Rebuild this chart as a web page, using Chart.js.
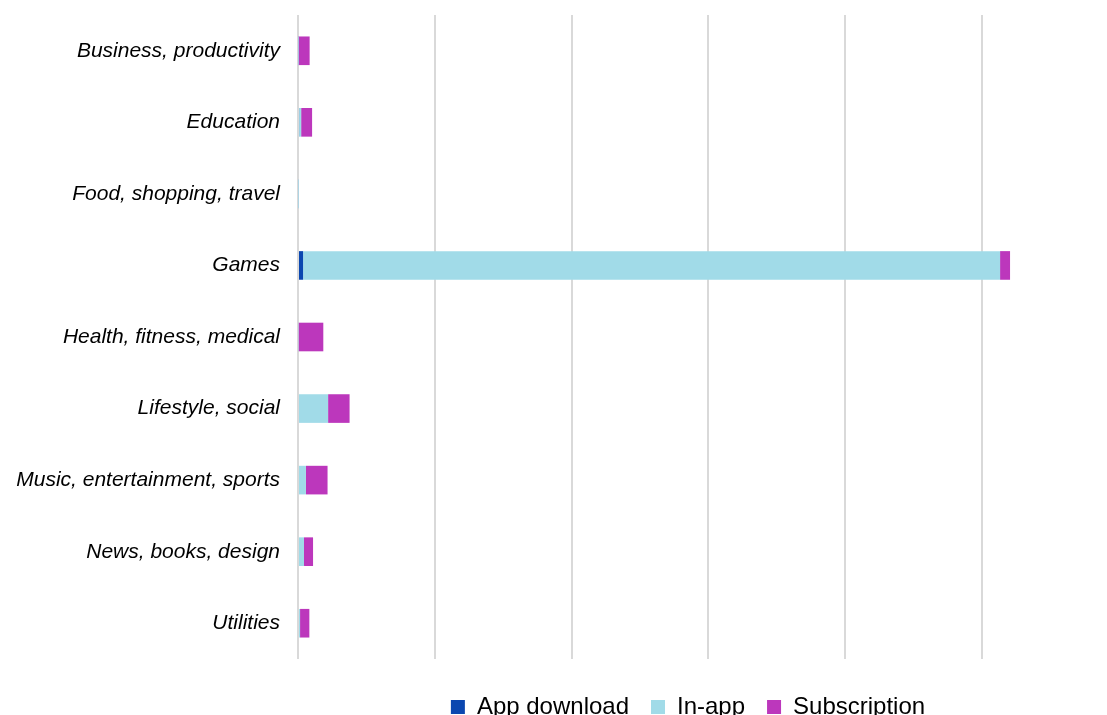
<!DOCTYPE html>
<html>
<head>
<meta charset="utf-8">
<script src="https://cdn.jsdelivr.net/npm/chart.js@4"></script>
<style>
  html, body { margin: 0; padding: 0; background: #fff; overflow: hidden; }
  #wrap { width: 1376px; height: 729px; position: relative; }
</style>
</head>
<body>
<div id="wrap"><canvas id="barChart"></canvas></div>
<script>
// categories and series (units = one grid step)
const categories = [
  "Business, productivity",
  "Education",
  "Food, shopping, travel",
  "Games",
  "Health, fitness, medical",
  "Lifestyle, social",
  "Music, entertainment, sports",
  "News, books, design",
  "Utilities",
];
const appDownload = [0, 0.008, 0, 0.037, 0, 0, 0, 0, 0];
const inApp = [0.002, 0.015, 0.002, 5.095, 0.005, 0.22, 0.058, 0.044, 0.015];
const subscription = [0.083, 0.08, 0.001, 0.073, 0.18, 0.157, 0.158, 0.066, 0.068];

document.addEventListener("DOMContentLoaded", () => {
  const barChart = document.querySelector("#barChart");
  const font = "'Liberation Sans', Arial, sans-serif";

  new Chart(barChart, {
    type: "bar",
    data: {
      labels: categories,
      datasets: [
        { label: "App download", data: appDownload, backgroundColor: "#0b47b0" },
        { label: "In-app", data: inApp, backgroundColor: "#a1dbe8" },
        { label: "Subscription", data: subscription, backgroundColor: "#bc37bc" },
      ],
    },
    options: {
      indexAxis: "y",
      responsive: true,
      maintainAspectRatio: false,
      animation: false,
      categoryPercentage: 0.4,
      barPercentage: 1,
      layout: { padding: { top: 15, left: 0, right: 0, bottom: 0 } },
      plugins: {
        tooltip: { enabled: false },
        legend: {
          position: "bottom",
          labels: {
            font: { family: font, size: 24 },
            color: "#000",
            boxWidth: 14,
            boxHeight: 14,
            padding: 22,
          },
        },
      },
      scales: {
        x: {
          stacked: true,
          min: 0,
          max: 7.88,
          ticks: { display: false, stepSize: 1 },
          grid: {
            drawTicks: false,
            lineWidth: 2,
            color: (ctx) => (Number.isInteger(ctx.tick && ctx.tick.value) ? "#d9d9d9" : "rgba(0,0,0,0)"),
          },
          border: { display: false },
          afterFit: (scale) => {
            scale.height = 14;
          },
        },
        y: {
          stacked: true,
          grid: { display: false, drawTicks: false },
          border: { display: false },
          ticks: {
            padding: 18,
            color: "#000",
            font: { family: font, size: 21, style: "italic" },
          },
          afterFit: (scale) => {
            scale.width = 298;
            scale.paddingTop = 0;
            scale.paddingBottom = 0;
          },
        },
      },
    },
  });
});
</script>
</body>
</html>
